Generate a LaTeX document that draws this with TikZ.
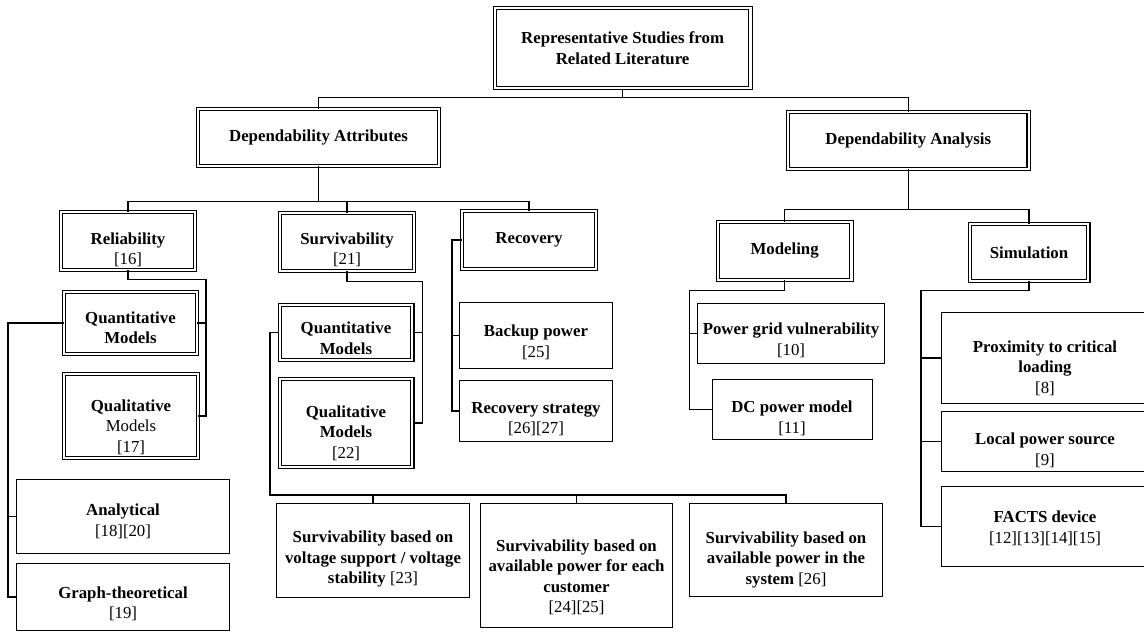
\documentclass[tikz,border=0pt]{standalone}
\usepackage{fontspec}
\setmainfont{Liberation Serif}
\usepackage{tikz}
\tikzstyle{dblbox} = [rectangle, draw=black, double, double distance=2.2pt, line width=1.1pt, inner sep=0pt, align=center, font=\fontsize{16.8}{20.5}\selectfont\bfseries]
\tikzstyle{box} = [rectangle, draw=black, line width=1pt, inner sep=0pt, align=center, font=\fontsize{16.8}{20.5}\selectfont\bfseries]
\tikzstyle{link} = [line width=1.1pt]
\newcommand{\refs}[1]{\textmd{#1}}
\newcommand{\pad}[1]{\rule{0pt}{#1pt}}

\begin{document}
\begin{tikzpicture}[x=1pt, y=-1pt]
\useasboundingbox (0,0) rectangle (1144,634);
\clip (0,0) rectangle (1144,634);
% top levels
\node (root) [dblbox, minimum width=255.6, minimum height=80] at (622.6,48.3) {Representative Studies from\\Related Literature};
\node (att) [dblbox, minimum width=240.6, minimum height=56.6] at (318.5,137.5) {Dependability Attributes};
\node (ana) [dblbox, minimum width=240.6, minimum height=56.6] at (908.3,140.5) {Dependability Analysis};
\node (rel) [dblbox, minimum width=133.6, minimum height=57.6] at (128,241) {\pad{29.5}Reliability\\\refs{[16]}};
\node (sur) [dblbox, minimum width=133.6, minimum height=57.6] at (347,242) {\pad{27.5}Survivability\\\refs{[21]}};
\node (rec) [dblbox, minimum width=133.6, minimum height=57.6] at (529,240) {Recovery};
\node (mod) [dblbox, minimum width=133.6, minimum height=57.6] at (784.6,251) {Modeling};
\node (sim) [dblbox, minimum width=118.6, minimum height=56.6] at (1029,252.5) {Simulation};
% reliability
\node (relqn) [dblbox, minimum width=132.6, minimum height=61.6] at (130.5,323) {\pad{21.5}Quantitative\\Models};
\node (relql) [dblbox, minimum width=133.6, minimum height=83.6] at (131,416) {\pad{33.5}Qualitative\\\refs{Models}\\\refs{[17]}};
\node (anl) [box, minimum width=213, minimum height=74] at (123,516.5) {\pad{21.5}Analytical\\\refs{[18][20]}};
\node (gra) [box, minimum width=213, minimum height=67] at (123,597) {\pad{25.5}Graph-theoretical\\\refs{[19]}};
% survivability
\node (surqn) [dblbox, minimum width=132.6, minimum height=54.6] at (346,332.5) {\pad{23.5}Quantitative\\Models};
\node (surql) [dblbox, minimum width=132.6, minimum height=87.6] at (346,423) {\pad{31.5}Qualitative\\Models\\\refs{[22]}};
\node (sv1) [box, minimum width=193, minimum height=94] at (373,550.5) {\pad{29.5}Survivability based on\\voltage support / voltage\\stability \refs{[23]}};
\node (sv2) [box, minimum width=192, minimum height=124] at (576.5,565.5) {\pad{35.5}Survivability based on\\available power for each\\customer\\\refs{[24][25]}};
\node (sv3) [box, minimum width=193, minimum height=93] at (786,550) {\pad{31.5}Survivability based on\\available power in the\\system \refs{[26]}};
% recovery
\node (bak) [box, minimum width=152.5, minimum height=66] at (536,335.5) {\pad{25.5}Backup power\\\refs{[25]}};
\node (rst) [box, minimum width=152.5, minimum height=61] at (536,411) {\pad{27.5}Recovery strategy\\\refs{[26][27]}};
% analysis
\node (pgv) [box, minimum width=186.6, minimum height=60] at (791,333.5) {\pad{25.5}Power grid vulnerability\\\refs{[10]}};
\node (dcm) [box, minimum width=160, minimum height=60] at (792,409.5) {\pad{29.5}DC power model\\\refs{[11]}};
\node (pro) [box, minimum width=207, minimum height=91] at (1045,358) {\pad{31.5}Proximity to critical\\loading\\\refs{[8]}};
\node (loc) [box, minimum width=207, minimum height=60] at (1045,441.5) {\pad{29.5}Local power source\\\refs{[9]}};
\node (fac) [box, minimum width=207, minimum height=80] at (1045,526.5) {\pad{15.5}FACTS device\\\refs{[12][13][14][15]}};
% connectors
\draw [link] (root.south) -- ++(0,8.5) -| (att.north);
\draw [link] (root.south) -- ++(0,8.5) -| (ana.north);
\draw [link] (att.south) -- ++(0,35.5) -| (rel.north);
\draw [link] (att.south) -- ++(0,35.5) -| (sur.north);
\draw [link] (att.south) -- ++(0,35.5) -| (rec.north);
\draw [link] (ana.south) -- ++(0,39.7) -| (mod.north);
\draw [link] (ana.south) -- ++(0,39.7) -| (sim.north);
\draw [link] (rel.south) -- ++(0,8.7) -- ++(78,0) |- (relql.east);
\draw [link] (relqn.east) -- ++(8.7,0);
\draw [link] (relqn.west) -- ++(-55.7,0) |- (gra.west);
\draw [link] (anl.west) -- ++(-8.5,0);
\draw [link] (sur.south) -- ++(0,9.7) -- ++(75.5,0) |- (surql.east);
\draw [link] (surqn.east) -- ++(9.7,0);
\draw [link] (surqn.west) -- ++(-9.2,0) -- ++(0,162.5) -| (sv3.north);
\draw [link] (sv1.north) -- ++(0,-8.5);
\draw [link] (sv2.north) -- ++(0,-8.5);
\draw [link] (rec.west) -- ++(-9.7,0) |- (rst.west);
\draw [link] (bak.west) -- ++(-7.75,0);
\draw [link] (mod.south) -- ++(0,9.7) -- ++(-95,0) |- (dcm.west);
\draw [link] (pgv.west) -- ++(-8.1,0);
\draw [link] (sim.south) -- ++(0,8.7) -- ++(-108,0) |- (fac.west);
\draw [link] (pro.west) -- ++(-20.5,0);
\draw [link] (loc.west) -- ++(-20.5,0);
\end{tikzpicture}
\end{document}
